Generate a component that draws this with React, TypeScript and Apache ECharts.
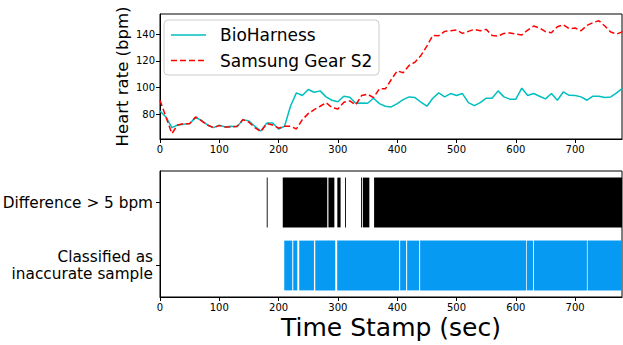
import React, { useEffect, useRef } from "react";
import * as echarts from "echarts";

const times = [
  0, 10, 20, 30, 40, 50, 60, 70, 80, 90, 100, 110, 120, 130, 140, 150, 160, 170, 180, 190,
  200, 210, 220, 230, 240, 250, 260, 270, 280, 290, 300, 310, 320, 330, 340, 350, 360, 370, 380, 390,
  400, 410, 420, 430, 440, 450, 460, 470, 480, 490, 500, 510, 520, 530, 540, 550, 560, 570, 580, 590,
  600, 610, 620, 630, 640, 650, 660, 670, 680, 690, 700, 710, 720, 730, 740, 750, 760, 770, 780,
];

const bioHarness = [
  82.5, 78, 70, 72, 72.5, 73, 77.5, 75.5, 72, 70, 71.9, 70.5, 71, 70.6, 76, 75, 71, 67.5, 73.4, 73.4,
  69, 71, 86, 96, 94, 98.5, 96.5, 97.5, 93, 90.5, 89.4, 93.5, 92.8, 88.2, 88.5, 88.2, 92, 88, 86, 85.5,
  88, 91, 93, 92.5, 89, 86, 92, 96, 93, 95.5, 94, 95.5, 88.7, 86.5, 88.7, 92, 92, 97.5, 93, 91.3,
  91.3, 99.5, 94, 95.5, 93.5, 91.5, 95.5, 90.5, 96.7, 94.2, 94, 93, 90.5, 93.5, 93.5, 92.5, 93, 96, 99.6,
];

const samsungGear = [
  90.5, 78, 65.6, 72, 73, 73, 78, 75, 72, 70, 71.5, 70.5, 70.5, 71, 76, 74, 70, 67, 73, 72,
  69.6, 71, 71, 69, 76, 80.5, 83.5, 86, 88.7, 85, 84, 89, 90, 87, 94, 95, 92.5, 99, 99, 106,
  112.5, 111, 116.5, 119, 124, 131, 139, 138.8, 142, 142.5, 143, 140.5, 142, 143.5, 142.5, 143.5, 139, 138.5, 140.5, 140.8,
  140, 139.3, 143, 146, 144.5, 141.8, 141, 145.5, 147, 144, 144.5, 142.5, 146.5, 148.5, 150, 146, 141.5, 140, 141.8,
];

const diffIntervals: number[][] = [
  [180, 181.5], [207, 282], [284, 294], [299, 304.5], [312, 313.5], [339, 340.5], [342, 353], [361, 779],
];

const inaccurateIntervals: number[][] = [
  [209.5, 223], [224.7, 231.5], [234.8, 259.6], [261.8, 295.5], [298.8, 403.2], [404.9, 415],
  [416.7, 437], [438.6, 617.5], [618.7, 629], [630.5, 719.8], [721, 779],
];

const rowLabels = ["Classified as\ninaccurate sample", "Difference > 5 bpm"];
const yTicks = [80, 100, 120, 140];
const seriesNames = ["BioHarness", "Samsung Gear S2"];

const FONT = "DejaVu Sans";
const CYAN = "#00bfbf";
const RED = "#ff0000";
const DASH = [6, 3];

export default function App() {
  const ref = useRef<HTMLDivElement>(null);
  useEffect(() => {
    document.body.style.margin = "0";
    if (!ref.current) return;
    const chart = echarts.init(ref.current, undefined, { renderer: "svg" });

    const barData = [
      ...diffIntervals.map((d) => [d[0], d[1], 1]),
      ...inaccurateIntervals.map((d) => [d[0], d[1], 0]),
    ];

    const axisCommon = {
      axisLine: { show: true, lineStyle: { color: "#000", width: 1 } },
      axisTick: { show: true, length: 4, lineStyle: { color: "#000" } },
      axisLabel: { color: "#000", fontSize: 10, fontFamily: FONT },
      splitLine: { show: false },
    };

    chart.setOption({
      animation: false,
      textStyle: { fontFamily: FONT },
      grid: [
        { left: 160, right: 1, top: 14, height: 125, show: true, borderColor: "#000", borderWidth: 1,
          containLabel: false, outerBoundsMode: "none" },
        { left: 160, right: 1, top: 171, height: 126, show: true, borderColor: "#000", borderWidth: 1,
          containLabel: false, outerBoundsMode: "none" },
      ],
      xAxis: [
        { type: "value", gridIndex: 0, min: 0, max: 779, interval: 100, ...axisCommon,
          axisLabel: { ...axisCommon.axisLabel, margin: 5, showMaxLabel: false } },
        { type: "value", gridIndex: 1, min: 0, max: 779, interval: 100, ...axisCommon,
          axisLabel: { ...axisCommon.axisLabel, margin: 5, showMaxLabel: false },
          name: "Time Stamp (sec)", nameLocation: "middle", nameGap: 18,
          nameTextStyle: { fontSize: 25, color: "#000", fontFamily: FONT } },
      ],
      yAxis: [
        { type: "value", gridIndex: 0, min: 61.5, max: 155, ...axisCommon,
          axisTick: { ...axisCommon.axisTick, customValues: yTicks },
          axisLabel: { ...axisCommon.axisLabel, margin: 5, customValues: yTicks } },
        { type: "category", gridIndex: 1, data: rowLabels, ...axisCommon,
          axisTick: { ...axisCommon.axisTick, alignWithLabel: true },
          axisLabel: { color: "#000", fontSize: 15.3, lineHeight: 17, fontFamily: FONT, margin: 7, align: "right" } },
      ],
      graphic: [
        { type: "text", x: 122, y: 76.5, rotation: Math.PI / 2,
          style: { text: "Heart rate (bpm)", fontSize: 16.5, fontFamily: FONT, fill: "#000",
            align: "center", verticalAlign: "middle" } },
        { type: "group", z: 100, children: [
          { type: "rect", shape: { x: 164, y: 20, width: 215, height: 55, r: 4 },
            style: { fill: "rgba(255,255,255,0.85)", stroke: "#cccccc", lineWidth: 1 } },
          { type: "line", shape: { x1: 171, y1: 35, x2: 206, y2: 35 },
            style: { stroke: CYAN, lineWidth: 1.5 } },
          { type: "text", x: 220, y: 35,
            style: { text: seriesNames[0], fontSize: 17, fontFamily: FONT, fill: "#000", verticalAlign: "middle" } },
          { type: "line", shape: { x1: 171, y1: 60.5, x2: 206, y2: 60.5 },
            style: { stroke: RED, lineWidth: 1.5, lineDash: DASH } },
          { type: "text", x: 220, y: 60.5,
            style: { text: seriesNames[1], fontSize: 17, fontFamily: FONT, fill: "#000", verticalAlign: "middle" } },
        ] },
      ],
      series: [
        { name: seriesNames[0], type: "line", xAxisIndex: 0, yAxisIndex: 0, showSymbol: false, symbol: "none",
          data: times.map((t, i) => [t, bioHarness[i]]),
          lineStyle: { color: CYAN, width: 1.5 }, itemStyle: { color: CYAN }, z: 2 },
        { name: seriesNames[1], type: "line", xAxisIndex: 0, yAxisIndex: 0, showSymbol: false, symbol: "none",
          data: times.map((t, i) => [t, samsungGear[i]]),
          lineStyle: { color: RED, width: 1.5, type: DASH }, itemStyle: { color: RED }, z: 3 },
        { type: "custom", xAxisIndex: 1, yAxisIndex: 1,
          encode: { x: [0, 1], y: 2 },
          data: barData,
          renderItem: (params: any, api: any) => {
            const start = api.coord([api.value(0), api.value(2)]);
            const end = api.coord([api.value(1), api.value(2)]);
            const h = api.size([0, 1])[1] * 0.79;
            const color = api.value(2) === 1 ? "#000000" : "#069af3";
            return {
              type: "rect",
              shape: { x: start[0], y: start[1] - h / 2, width: Math.max(end[0] - start[0], 0.8), height: h },
              style: { fill: color },
            };
          } },
      ],
    });
    return () => chart.dispose();
  }, []);
  return <div ref={ref} style={{ width: 623, height: 345 }} />;
}
